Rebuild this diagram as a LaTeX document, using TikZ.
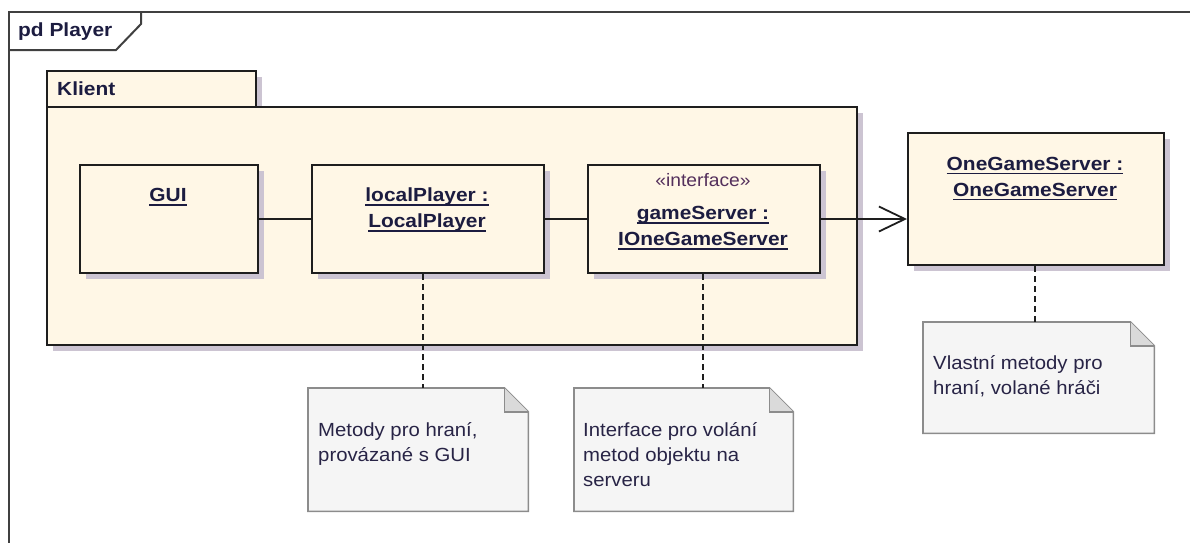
\documentclass[tikz,border=0pt]{standalone}
\usepackage{fontspec}
\setmainfont{Liberation Sans}[FakeStretch=1.07]
\newfontfamily\namefont{Liberation Sans}[FakeStretch=1.1]
\usetikzlibrary{calc,arrows.meta,shadows}

\definecolor{cream}{RGB}{255,247,230}
\definecolor{shadowc}{RGB}{204,196,210}
\definecolor{boxline}{RGB}{30,30,30}
\definecolor{framec}{RGB}{64,64,64}
\definecolor{notefill}{RGB}{245,245,245}
\definecolor{noteline}{RGB}{140,140,140}
\definecolor{foldfill}{RGB}{218,218,218}
\definecolor{namec}{RGB}{28,28,64}
\definecolor{stereoc}{RGB}{84,48,92}
\definecolor{notetext}{RGB}{40,36,70}

% underlined instance name, rule at a fixed depth below the baseline
\newcommand\instname[1]{\setbox0=\hbox{#1}\rlap{\rule[-4pt]{\wd0}{1.4pt}}\box0}

\tikzset{
  shadowed/.style={drop shadow={shadow xshift=6pt,shadow yshift=-6pt,fill=shadowc,opacity=1}},
  objbox/.style={draw=boxline,line width=2pt,fill=cream,inner sep=0pt,anchor=north west,shadowed},
  pkgbox/.style={draw=boxline,line width=2pt,fill=cream,inner sep=0pt,anchor=north west,shadowed},
  notebox/.style={inner sep=0pt,anchor=north west},
  notepaper/.style={draw=noteline,line width=1.6pt,fill=notefill},
  notefold/.style={draw=noteline,line width=1.6pt,fill=foldfill},
  % multi-line labels: the base anchor sits on the last line's baseline
  instlabel/.style={font=\namefont\bfseries\fontsize{19}{26}\selectfont,text=namec,inner sep=0pt,anchor=base,align=center},
  stereolabel/.style={font=\fontsize{18}{22}\selectfont,text=stereoc,inner sep=0pt,anchor=base},
  notetxt/.style={font=\fontsize{19}{25}\selectfont,text=notetext,inner sep=0pt,anchor=base west,align=left},
  headlabel/.style={font=\namefont\bfseries\fontsize{19}{24}\selectfont,text=namec,inner sep=0pt,anchor=base west},
  assoc/.style={draw=boxline,line width=2pt},
  navig/.style={assoc,-{Straight Barb[length=26pt,width=25pt,line width=1.8pt]}},
  notelink/.style={draw=boxline,line width=2pt,dash pattern=on 6pt off 4pt},
}

\begin{document}
\begin{tikzpicture}[x=1pt,y=-1pt]
\useasboundingbox (0,0) rectangle (1190,542);

% diagram frame with its name tab
\draw[framec,line width=2.6pt] (9,560) -- (9,12) -- (1200,12);
\draw[framec,line width=2pt] (9,50) -- (116,50) -- (141,24) -- (141,12);
\node[headlabel] (frametitle) at (18,36.5) {pd Player};

% package Klient
\node[pkgbox,minimum width=209pt,minimum height=36pt] (ktab) at (46,70) {};
\node[pkgbox,minimum width=810pt,minimum height=238pt] (klient) at (46,106) {};
\node[headlabel] (ktitle) at (57,95) {Klient};

% instances
\node[objbox,minimum width=178pt,minimum height=108pt] (gui) at (79,164) {};
\node[objbox,minimum width=232pt,minimum height=108pt] (lp) at (311,164) {};
\node[objbox,minimum width=232pt,minimum height=108pt] (gs) at (587,164) {};
\node[objbox,minimum width=256pt,minimum height=132pt] (ogs) at (907,132) {};

\node[instlabel] (guiname) at (168,201.5) {\instname{GUI}};
\node[instlabel] (lpname) at (427,227.5) {\instname{localPlayer :}\\\instname{LocalPlayer}};
\node[stereolabel] (gsstereo) at (703,186) {«interface»};
\node[instlabel] (gsname) at (703,245.5) {\instname{gameServer :}\\\instname{IOneGameServer}};
\node[instlabel] (ogsname) at (1035,196) {\instname{OneGameServer :}\\\instname{OneGameServer}};

% links
\draw[assoc] (gui.east) -- (lp.west);
\draw[assoc] (lp.east) -- (gs.west);
\draw[navig] (gs.east) -- (gs.east -| ogs.west);

% notes
\node[notebox,minimum width=220pt,minimum height=123pt] (n1) at (308,388) {};
\node[notebox,minimum width=219pt,minimum height=123pt] (n2) at (574,388) {};
\node[notebox,minimum width=231pt,minimum height=111pt] (n3) at (923,322) {};
\foreach \n in {n1,n2,n3}{
  \draw[notepaper] (\n.north west) -- ([xshift=-24pt]\n.north east)
    -- ([yshift=-24pt]\n.north east) -- (\n.south east) -- (\n.south west) -- cycle;
  \draw[notefold] ([xshift=-24pt]\n.north east) -- ([xshift=-24pt,yshift=-24pt]\n.north east)
    -- ([yshift=-24pt]\n.north east);
}
\node[notetxt] (n1txt) at (318,461.5) {Metody pro hraní,\\provázané s GUI};
\node[notetxt] (n2txt) at (583,486.5) {Interface pro volání\\metod objektu na\\serveru};
\node[notetxt] (n3txt) at (933,394.5) {Vlastní metody pro\\hraní, volané hráči};

% note attachments
\coordinate (a1) at (423,0);
\coordinate (a2) at (703,0);
\coordinate (a3) at (1035,0);
\draw[notelink] (lp.south -| a1) -- (n1.north -| a1);
\draw[notelink] (gs.south -| a2) -- (n2.north -| a2);
\draw[notelink] (ogs.south -| a3) -- (n3.north -| a3);
\end{tikzpicture}
\end{document}
